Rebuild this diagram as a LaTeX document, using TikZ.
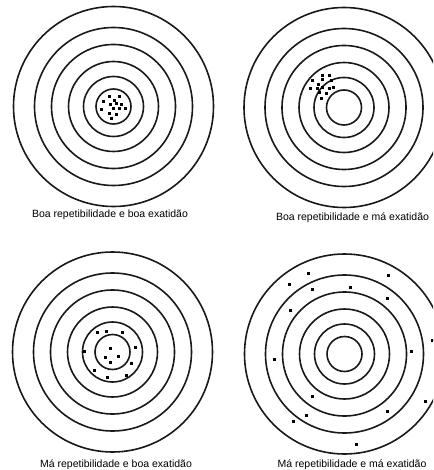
\documentclass[tikz,border=0pt]{standalone}
\usepackage{fontspec}
\setmainfont{Liberation Sans}
\begin{document}
\begin{tikzpicture}[x=1pt,y=-1pt,
  ring/.style={line width=1.6pt, draw=black!90},
  caption/.style={font=\fontsize{10.5}{12}\selectfont, inner sep=0pt, text=black}]
\useasboundingbox (0,0) rectangle (433,470);
\clip (0,0) rectangle (433,470);
\fill[white] (0,0) rectangle (433,470);
\newcommand\hitmark[1]{\fill[black] #1 +(-1.5,-1.5) rectangle +(1.5,1.5);}
\newcommand\targetrings[1]{\foreach \r in {100,79,62,45,30,17.5} {\draw[ring] (#1) circle[radius=\r pt];}}
% centres
\coordinate (c1) at (113.5,106.5);
\coordinate (c2) at (344,107.5);
\coordinate (c3) at (112.5,352);
\coordinate (c4) at (344.5,354);
\targetrings{c1}
\targetrings{c2}
\targetrings{c3}
\targetrings{c4}
% target 1 hits
\foreach \p in {(109,97),(119,97),(103,102),(114,101),(116,104),(110,105),(121,105),(101,110),(113,109),(119,109),(125,109),(109,114),(116,115),(111,119)}
  {\hitmark{\p}}
% target 2 hits
\foreach \p in {(312.7,81),(322,76),(329.3,75.7),(331.7,81),(322.7,80),(318.7,84.3),(310.3,88.7),(317.7,88.3),(322.7,87.3),(329.3,88.3),(333.7,87.7),(326,93.3),(319.3,92.7),(321,98.3)}
  {\hitmark{\p}}
% target 3 hits
\foreach \p in {(97.7,332.7),(106,331.7),(122.3,332.7),(84,351.7),(110,348.3),(135,347.3),(105,357.3),(118.3,356),(110,362.3),(131.7,363.3),(94.3,370),(107.3,377.7),(126,375.7)}
  {\hitmark{\p}}
% target 4 hits
\foreach \p in {(308.3,273.3),(388.7,275),(289.3,284.3),(312.7,289),(350.3,287.3),(387.7,298.3),(290,310.7),(432,340.3),(411,351),(274.3,359),(312.7,396.7),(425,401.7),(387.7,411.7),(306.7,415),(293.3,421),(356,444.3)}
  {\hitmark{\p}}
% captions
\node[caption] (l1) at (110,215) {Boa repetibilidade e boa exatidão};
\node[caption] (l2) at (352.5,218) {Boa repetibilidade e má exatidão};
\node[caption] (l3) at (116,465) {Má repetibilidade e boa exatidão};
\node[caption] (l4) at (352,465) {Má repetibilidade e má exatidão};
\end{tikzpicture}
\end{document}
